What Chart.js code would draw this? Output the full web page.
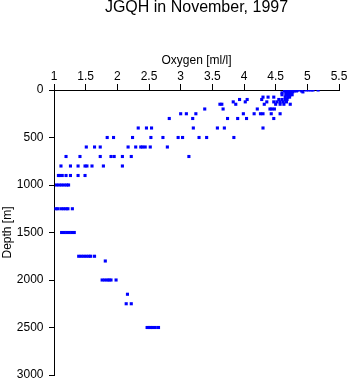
<!DOCTYPE html>
<html><head><meta charset="utf-8">
<script src="https://cdn.jsdelivr.net/npm/chart.js@4.4.0/dist/chart.umd.min.js"></script>
<style>html,body{margin:0;padding:0;background:#fff;}canvas{display:block;}</style>
</head><body>
<canvas id="c" width="350" height="384"></canvas>
<script>
const chartTitle = "JGQH in November, 1997";
const xAxisTitle = "Oxygen [ml/l]";
const yAxisTitle = "Depth [m]";
const xTicks = [1, 1.5, 2, 2.5, 3, 3.5, 4, 4.5, 5, 5.5];
const yTicks = [0, 500, 1000, 1500, 2000, 2500, 3000];

// sampling depths [m]
const depthLevels = [0, 10, 20, 30, 50, 75, 100, 125, 150, 200, 250, 300, 400, 500, 600, 700, 800, 900, 1000, 1250, 1500, 1750, 1800, 2000, 2150, 2250, 2500];
// oxygen [ml/l] measured at each depth level
const oxygenByLevel = [
  [4.66, 4.69, 4.72, 4.75, 4.78, 4.81, 4.84, 4.86, 4.98, 5.02, 5.06, 5.09, 5.17],
  [4.64, 4.68, 4.72, 4.75, 4.79, 4.83, 4.91],
  [4.66, 4.70, 4.74, 4.77, 4.93],
  [4.60, 4.67, 4.71, 4.75],
  [4.60, 4.66, 4.70, 4.73, 4.76],
  [4.30, 4.38, 4.47, 4.65, 4.69, 4.72],
  [3.93, 4.05, 4.28, 4.55, 4.60, 4.65, 4.68],
  [3.83, 4.02, 4.36, 4.47, 4.52, 4.57, 4.62, 4.67],
  [3.62, 3.65, 3.87, 4.32, 4.50, 4.57, 4.63, 4.73],
  [3.38, 3.67, 4.21, 4.41, 4.44, 4.48],
  [3.00, 3.09, 3.24, 3.99, 4.16, 4.26, 4.30, 4.43, 4.57],
  [2.82, 3.19, 3.74, 3.90, 4.04, 4.47],
  [2.33, 2.46, 2.54, 3.20, 3.58, 3.69, 4.30],
  [1.84, 1.94, 2.24, 2.53, 2.72, 2.96, 3.03, 3.29, 3.41, 3.84],
  [1.51, 1.64, 1.73, 2.17, 2.29, 2.37, 2.40, 2.44, 2.52, 2.79],
  [1.19, 1.41, 1.73, 1.90, 1.95, 2.08, 2.22, 3.13],
  [1.11, 1.26, 1.38, 1.49, 1.52, 1.60, 1.78, 2.08],
  [1.07, 1.09, 1.13, 1.19, 1.26, 1.38, 1.49],
  [1.04, 1.08, 1.12, 1.16, 1.20, 1.23],
  [1.03, 1.06, 1.11, 1.15, 1.19, 1.22, 1.29],
  [1.12, 1.16, 1.20, 1.24, 1.28, 1.32],
  [1.39, 1.43, 1.47, 1.51, 1.55, 1.58, 1.64],
  [1.81],
  [1.76, 1.80, 1.84, 1.87, 1.90, 1.98],
  [2.16],
  [2.14, 2.22],
  [2.47, 2.50, 2.53, 2.56, 2.60, 2.65]
];

const points = [];
depthLevels.forEach((d, i) => oxygenByLevel[i].forEach(o => points.push({x: o, y: d})));

Chart.defaults.font.family = "'Liberation Sans', Arial, Helvetica, sans-serif";
Chart.defaults.color = '#000';

new Chart(document.getElementById('c'), {
  type: 'scatter',
  data: {
    datasets: [{
      data: points,
      pointStyle: 'rect',
      pointRadius: 2.2,
      pointBackgroundColor: '#0000ff',
      pointBorderWidth: 0,
      pointHoverRadius: 2.2
    }]
  },
  options: {
    responsive: false,
    devicePixelRatio: 1,
    animation: false,
    events: [],
    layout: {padding: {left: 0, top: 0, right: 11, bottom: 9}},
    plugins: {
      legend: {display: false},
      tooltip: {enabled: false},
      title: {
        display: true,
        text: chartTitle,
        fullSize: false,
        color: '#000',
        font: {size: 16, weight: 'normal', lineHeight: 0.9375},
        padding: {top: 0, bottom: 10}
      }
    },
    scales: {
      x: {
        type: 'linear',
        position: 'top',
        min: 1, max: 5.5,
        afterBuildTicks: s => { s.ticks = xTicks.map(v => ({value: v})); },
        afterFit: s => { s.height = 65; s.paddingLeft = 0; s.paddingRight = 0; },
        grid: {display: true, drawOnChartArea: false, drawTicks: true, tickLength: 6, color: '#000', lineWidth: 1},
        border: {display: true, color: '#000', width: 1},
        ticks: {color: '#000', font: {size: 12}, padding: 0.5, maxRotation: 0, autoSkip: false,
                callback: v => String(v)},
        title: {display: true, text: xAxisTitle, color: '#000', font: {size: 12}, padding: {top: 28.8, bottom: 0}}
      },
      y: {
        type: 'linear',
        reverse: true,
        min: 0, max: 3000,
        afterBuildTicks: s => { s.ticks = yTicks.map(v => ({value: v})); },
        afterFit: s => { s.width = 54; s.paddingTop = 0; s.paddingBottom = 0; },
        grid: {display: true, drawOnChartArea: false, drawTicks: true, tickLength: 5, color: '#000', lineWidth: 1},
        border: {display: true, color: '#000', width: 1},
        ticks: {color: '#000', font: {size: 12}, padding: 5.5, autoSkip: false,
                callback: v => String(v)},
        title: {display: true, text: yAxisTitle, color: '#000', font: {size: 12}, padding: {top: 0, bottom: 0}}
      }
    }
  }
});
</script>
</body></html>
